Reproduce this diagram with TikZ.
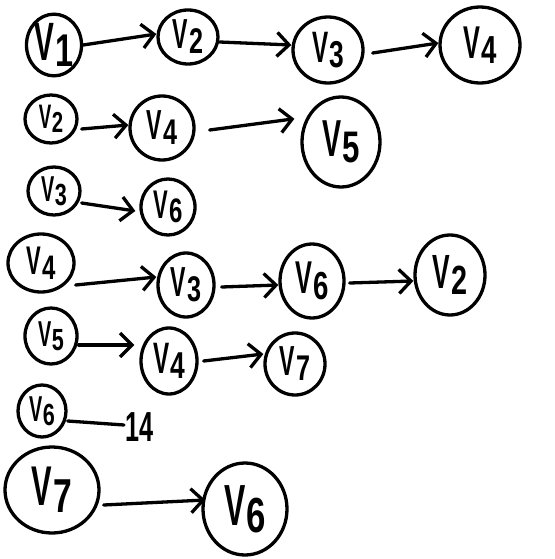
\documentclass[tikz,border=0pt]{standalone}
\usepackage{fontspec}
\setmainfont{Liberation Sans}
\usetikzlibrary{shapes.geometric,arrows.meta}

% narrow hand-lettered vertex label: V with a lowered index
\newcommand\vl[1]{\scalebox{0.55}[1]{V}\kern0.02em\raisebox{-0.12em}{\scalebox{0.6}[0.85]{#1}}}

\tikzset{
  vnode/.style={ellipse, draw, line width=3.3pt, inner sep=0pt,
                font=\fontsize{#1}{#1}\selectfont\bfseries},
  link/.style={line width=3.3pt, line cap=round,
               -{Straight Barb[length=12pt,width=24pt,line width=3.3pt]}},
  plain/.style={line width=3.3pt, line cap=round},
}

\begin{document}
\begin{tikzpicture}[x=1pt,y=-1pt]
\useasboundingbox (0,0) rectangle (554,559);

% row 1: V1 -> V2 -> V3 -> V4
\node[vnode=54, minimum width=54pt, minimum height=60pt] (a1) at (54,45)  {\vl1};
\node[vnode=42, minimum width=60pt, minimum height=54pt] (a2) at (188,37) {\vl2};
\node[vnode=44, minimum width=70pt, minimum height=66pt] (a3) at (328,50) {\vl3};
\node[vnode=46, minimum width=80pt, minimum height=76pt] (a4) at (480,45) {\vl4};
\draw[link] (a1.east) -- ([yshift=3pt]a2.west);
\draw[link] ([yshift=-5pt]a2.east) -- ([yshift=5pt]a3.west);
\draw[link] ([xshift=8pt,yshift=-3pt]a3.east) -- ([yshift=2pt]a4.west);

% row 2: V2 -> V4 -> V5
\node[vnode=34, minimum width=52pt, minimum height=48pt] (b1) at (51,119)  {\vl2};
\node[vnode=42, minimum width=64pt, minimum height=64pt] (b2) at (162,128) {\vl4};
\node[vnode=52, minimum width=78pt, minimum height=90pt] (b3) at (341,142) {\vl5};
\draw[link] ([xshift=3pt,yshift=-10pt]b1.east) -- ([yshift=3pt]b2.west);
\draw[link, shorten >=6pt] ([xshift=14pt,yshift=-2pt]b2.east) -- ([yshift=24pt]b3.west);

% row 3: V3 -> V6
\node[vnode=36, minimum width=52pt, minimum height=48pt] (c1) at (54,191)  {\vl3};
\node[vnode=40, minimum width=54pt, minimum height=56pt] (c2) at (168,207) {\vl6};
\draw[link] ([yshift=-12pt]c1.east) -- ([xshift=-4pt,yshift=-4pt]c2.west);

% row 4: V4 -> V3 -> V6 -> V2
\node[vnode=40, minimum width=66pt, minimum height=58pt] (d1) at (41,263)  {\vl4};
\node[vnode=42, minimum width=56pt, minimum height=64pt] (d2) at (186,285) {\vl3};
\node[vnode=46, minimum width=64pt, minimum height=74pt] (d3) at (312,281) {\vl6};
\node[vnode=48, minimum width=70pt, minimum height=80pt] (d4) at (450,275) {\vl2};
\draw[link] ([yshift=-22pt]d1.east) -- ([yshift=8pt]d2.west);
\draw[link] ([xshift=6pt,yshift=-2pt]d2.east) -- ([yshift=-4pt]d3.west);
\draw[link] ([xshift=4pt,yshift=-2pt]d3.east) -- ([yshift=-6pt]d4.west);

% row 5: V5 -> V4 -> V7
\node[vnode=36, minimum width=52pt, minimum height=56pt] (e1) at (51,336)  {\vl5};
\node[vnode=44, minimum width=56pt, minimum height=66pt] (e2) at (169,361) {\vl4};
\node[vnode=42, minimum width=60pt, minimum height=62pt] (e3) at (295,364) {\vl7};
\draw[link, shorten >=5pt] ([yshift=-9pt]e1.east) -- ([yshift=16pt]e2.west);
\draw[link] ([xshift=5pt]e2.east) -- ([yshift=10pt]e3.west);

% row 6: V6 with a plain stroke to the value 14
\node[vnode=36, minimum width=48pt, minimum height=52pt] (f1) at (42,411) {\vl6};
\coordinate (f2) at (124,425);
\draw[plain] ([yshift=-10pt]f1.east) -- (f2);
\node[anchor=west, inner sep=0pt, font=\fontsize{42}{42}\selectfont\bfseries] (f3) at (125,427) {\scalebox{0.6}[1]{14}};

% row 7: V7 -> V6
\node[vnode=56, minimum width=94pt, minimum height=86pt] (g1) at (52,490)  {\vl7};
\node[vnode=58, minimum width=84pt, minimum height=92pt] (g2) at (245,509) {\vl6};
\draw[link] ([xshift=3pt,yshift=-15pt]g1.east) -- ([xshift=4pt,yshift=9pt]g2.west);
\end{tikzpicture}
\end{document}
